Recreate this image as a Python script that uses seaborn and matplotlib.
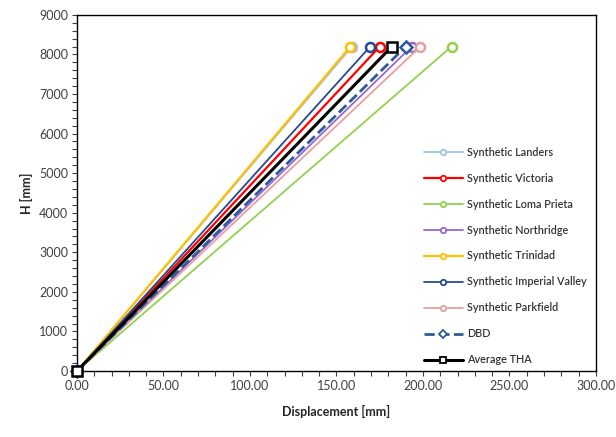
import matplotlib
matplotlib.use("Agg")
import matplotlib.pyplot as plt
import seaborn as sns
import pandas as pd
from matplotlib.ticker import MultipleLocator, FormatStrFormatter

sns.set_style("ticks")
plt.rcParams['font.family'] = ['Lato', 'DejaVu Sans']

series_names = ["Synthetic Landers", "Synthetic Victoria", "Synthetic Loma Prieta",
                "Synthetic Northridge", "Synthetic Trinidad", "Synthetic Imperial Valley",
                "Synthetic Parkfield", "DBD", "Average THA"]
top_displacement = [159.0, 175.0, 216.5, 193.5, 158.0, 169.5, 198.5, 190.0, 182.0]
heights = [0, 8200]

colors = ["#9DC3E6", "#FF0000", "#92D050", "#9966CC", "#FFC000", "#254B8C",
          "#E6A0A0", "#2E5C9A", "#000000"]
markers = ["o", "o", "o", "o", "o", "o", "o", "D", "s"]
dashes = ["-", "-", "-", "-", "-", "-", "-", "--", "-"]
widths = [1.3, 1.6, 1.3, 1.3, 1.6, 1.3, 1.3, 2.0, 2.2]

fig, ax = plt.subplots(figsize=(6.16, 4.37), dpi=100)
fig.subplots_adjust(left=0.125, right=0.9675, top=0.966, bottom=0.151)

for i, name in enumerate(series_names):
    df = pd.DataFrame({"Displacement": [0.0, top_displacement[i]], "H": heights})
    sns.lineplot(data=df, x="Displacement", y="H", ax=ax, color=colors[i],
                 linestyle=dashes[i], linewidth=widths[i], marker=markers[i],
                 markersize=6.5 if markers[i] != "s" else 7, markerfacecolor="white",
                 markeredgecolor=colors[i], markeredgewidth=1.8, label=name,
                 clip_on=False, zorder=3 + i, sort=False)

ax.set_xlim(0, 300)
ax.set_ylim(0, 9000)
ax.xaxis.set_major_locator(MultipleLocator(50))
ax.xaxis.set_minor_locator(MultipleLocator(10))
ax.yaxis.set_major_locator(MultipleLocator(1000))
ax.yaxis.set_minor_locator(MultipleLocator(200))
ax.xaxis.set_major_formatter(FormatStrFormatter("%.2f"))
ax.tick_params(which="both", direction="out", length=3.5, width=0.8, color="#404040")
ax.tick_params(which="major", labelsize=9, labelcolor="#404040", pad=3)
for s in ax.spines.values():
    s.set_color("black")
    s.set_linewidth(1.0)

ax.set_xlabel("Displacement [mm]", fontsize=9, fontweight="bold", labelpad=9)
ax.set_ylabel("H [mm]", fontsize=9, fontweight="bold", labelpad=4)

leg = ax.legend(loc="upper left", bbox_to_anchor=(0.66, 0.642), frameon=False,
                fontsize=7.8, handlelength=3.6, labelspacing=1.38, handletextpad=0.4,
                borderaxespad=0, markerscale=0.6)
for t in leg.get_texts():
    t.set_color("#333333")
    t.set_fontweight("semibold")
for h in leg.legend_handles:
    h.set_markeredgewidth(1.3)

fig.savefig("out.png", dpi=100)
